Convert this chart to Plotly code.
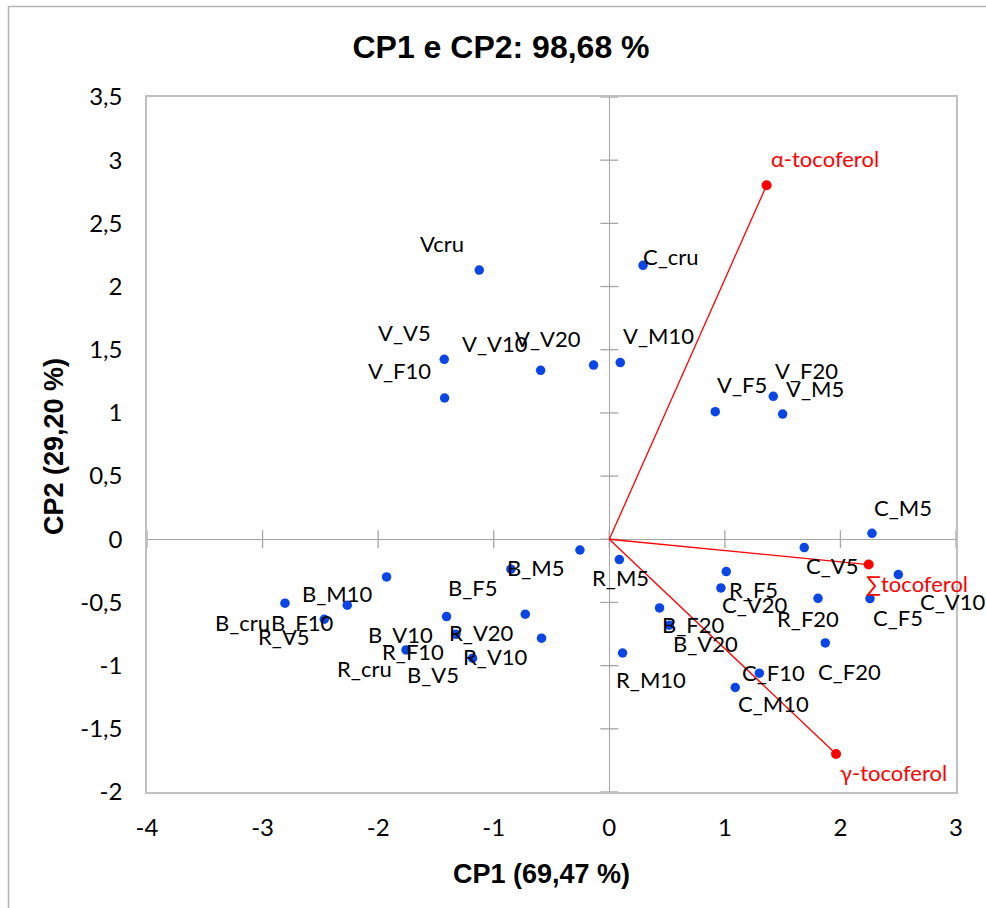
import plotly.graph_objects as go

# ---- sample scores (CP1, CP2) ----
sample_names = [
    "Vcru", "C_cru", "V_V5", "V_F10", "V_V10", "V_V20", "V_M10", "V_F5", "V_F20", "V_M5",
    "C_M5", "C_V5", "C_V10", "C_F5", "R_F20", "C_F20", "C_F10", "C_M10", "R_F5", "C_V20",
    "B_F20", "B_V20", "R_M10", "R_M5",
    "B_M5", "B_F5", "B_M10", "B_cru", "B_F10", "R_V5", "B_V10", "R_V20", "R_V10", "R_F10",
    "R_cru", "B_V5",
]
cp1 = [
    -1.125, 0.292, -1.428, -1.425, -0.594, -0.136, 0.095, 0.917, 1.419, 1.500,
    2.273, 1.687, 2.501, 2.256, 1.806, 1.869, 1.298, 1.090, 1.012, 0.966,
    0.435, 0.519, 0.115, 0.087,
    -0.254, -0.851, -1.927, -2.806, -2.267, -2.466, -1.408, -0.727, -0.586, -1.327,
    -1.759, -1.183,
]
cp2 = [
    2.130, 2.168, 1.424, 1.118, 1.337, 1.379, 1.398, 1.010, 1.131, 0.991,
    0.047, -0.066, -0.279, -0.469, -0.467, -0.820, -1.060, -1.173, -0.256, -0.385,
    -0.543, -0.680, -0.900, -0.161,
    -0.085, -0.237, -0.298, -0.506, -0.522, -0.633, -0.612, -0.593, -0.783, -0.752,
    -0.876, -0.941,
]
# label offsets in pixels (right, down) from each point
label_dx = [
    -37, 28, -40, -45, -46, -46, 38, 27, 33, 32,
    31, 28, 54, 28, -10, 24, 14, 38, 27, 34,
    34, 36, 28, 1,
    -44, -38, -49, -42, -45, -40, -46, -44, -46, -43,
    -42, -40,
]
label_dy = [
    -27, -9, -27, -28, -27, -27, -27, -27, -26, -26,
    -26, 18, 27, 19, 20, 29, -1, 16, 18, 17,
    17, 18, 26, 18,
    17, 18, 17, 19, 17, 17, 18, 18, 18, 17,
    19, 16,
]

# ---- variable loadings ----
var_names = ["α-tocoferol", "∑tocoferol", "γ-tocoferol"]
var_cp1 = [1.361, 2.244, 1.962]
var_cp2 = [2.801, -0.200, -1.699]
var_dx = [58, 48, 57]
var_dy = [-27, 19, 19]

# ---- axes ----
x_ticks = [-4, -3, -2, -1, 0, 1, 2, 3]
x_tick_labels = ["-4", "-3", "-2", "-1", "0", "1", "2", "3"]
y_ticks = [-2, -1.5, -1, -0.5, 0, 0.5, 1, 1.5, 2, 2.5, 3, 3.5]
y_tick_labels = ["-2", "-1,5", "-1", "-0,5", "0", "0,5", "1", "1,5", "2", "2,5", "3", "3,5"]

title_text = "CP1 e CP2: 98,68 %"
x_title = "CP1 (69,47 %)"
y_title = "CP2 (29,20 %)"

BLUE = "#0a46e6"
RED = "#ff0000"
LABEL_FONT = dict(family="Lato, Carlito, Calibri, sans-serif", size=22, color="#000000")
BOLD_FONT = "Liberation Sans, Arial, sans-serif"

W, H = 986, 908
ML, MR, MT, MB = 147, 30, 97, 116
PW, PH = W - ML - MR, H - MT - MB

fig = go.Figure()

# loading vectors
for name, vx, vy in zip(var_names, var_cp1, var_cp2):
    fig.add_trace(go.Scatter(x=[0, vx], y=[0, vy], mode="lines",
                             line=dict(color=RED, width=1.3), showlegend=False,
                             hoverinfo="skip"))
fig.add_trace(go.Scatter(x=var_cp1, y=var_cp2, mode="markers", text=var_names,
                         marker=dict(color=RED, size=10), showlegend=False))

# sample scores
fig.add_trace(go.Scatter(x=cp1, y=cp2, mode="markers", text=sample_names,
                         marker=dict(color=BLUE, size=9.5), showlegend=False))

annotations = []
for n, x, y, dx, dy in zip(sample_names, cp1, cp2, label_dx, label_dy):
    annotations.append(dict(x=x, y=y, xref="x", yref="y", text=n, showarrow=False,
                            xshift=dx, yshift=-dy, xanchor="center", yanchor="middle",
                            font=LABEL_FONT))
for n, x, y, dx, dy in zip(var_names, var_cp1, var_cp2, var_dx, var_dy):
    annotations.append(dict(x=x, y=y, xref="x", yref="y", text=n, showarrow=False,
                            xshift=dx, yshift=-dy, xanchor="center", yanchor="middle",
                            font=dict(LABEL_FONT, color=RED)))

# axis titles
annotations.append(dict(x=(541 - ML) / PW, y=(H - MB - 874) / PH, xref="paper", yref="paper",
                        text=x_title, showarrow=False, xanchor="center", yanchor="middle",
                        font=dict(family=BOLD_FONT, size=27, color="#000000", weight="bold")))
annotations.append(dict(x=(54 - ML) / PW, y=(H - MB - 447) / PH, xref="paper", yref="paper",
                        text=y_title, showarrow=False, xanchor="center", yanchor="middle",
                        textangle=-90,
                        font=dict(family=BOLD_FONT, size=27, color="#000000", weight="bold")))

shapes = []
# tick crosses on the zero axes
for t in x_ticks:
    shapes.append(dict(type="line", xref="x", yref="y", x0=t, x1=t, ysizemode="pixel",
                       yanchor=0, y0=-9, y1=9, line=dict(color="#a6a6a6", width=1.3),
                       layer="below"))
for t in y_ticks:
    shapes.append(dict(type="line", xref="x", yref="y", y0=t, y1=t, xsizemode="pixel",
                       xanchor=0, x0=-9, x1=9, line=dict(color="#a6a6a6", width=1.3),
                       layer="below"))
# outer chart border
shapes.append(dict(type="rect", xref="paper", yref="paper",
                   x0=(8.5 - ML) / PW, x1=(995 - ML) / PW,
                   y0=(H - MB - 915) / PH, y1=(H - MB - 6.5) / PH,
                   line=dict(color="#b4b4b4", width=1.5), fillcolor="rgba(0,0,0,0)",
                   layer="below"))

axis_common = dict(showgrid=False, showline=True, mirror=True, linecolor="#c0c0c0",
                   linewidth=1.5, zeroline=True, zerolinecolor="#a6a6a6",
                   zerolinewidth=1.3, ticks="outside", tickcolor="rgba(0,0,0,0)",
                   tickfont=dict(family="Lato, Carlito, Calibri, sans-serif", size=24,
                                 color="#000000"))

fig.update_layout(
    width=W, height=H,
    margin=dict(l=ML, r=MR, t=MT, b=MB),
    paper_bgcolor="white", plot_bgcolor="white",
    title=dict(text=title_text, xref="container", yref="container",
               x=501 / W, y=1 - 47 / H, xanchor="center", yanchor="middle",
               font=dict(family=BOLD_FONT, size=32, color="#000000", weight="bold")),
    xaxis=dict(range=[-4, 3], tickvals=x_ticks, ticktext=x_tick_labels, ticklen=13,
               **axis_common),
    yaxis=dict(range=[-2, 3.5], tickvals=y_ticks, ticktext=y_tick_labels, ticklen=18,
               **axis_common),
    annotations=annotations,
    shapes=shapes,
    showlegend=False,
)

fig.write_html("out.html")
